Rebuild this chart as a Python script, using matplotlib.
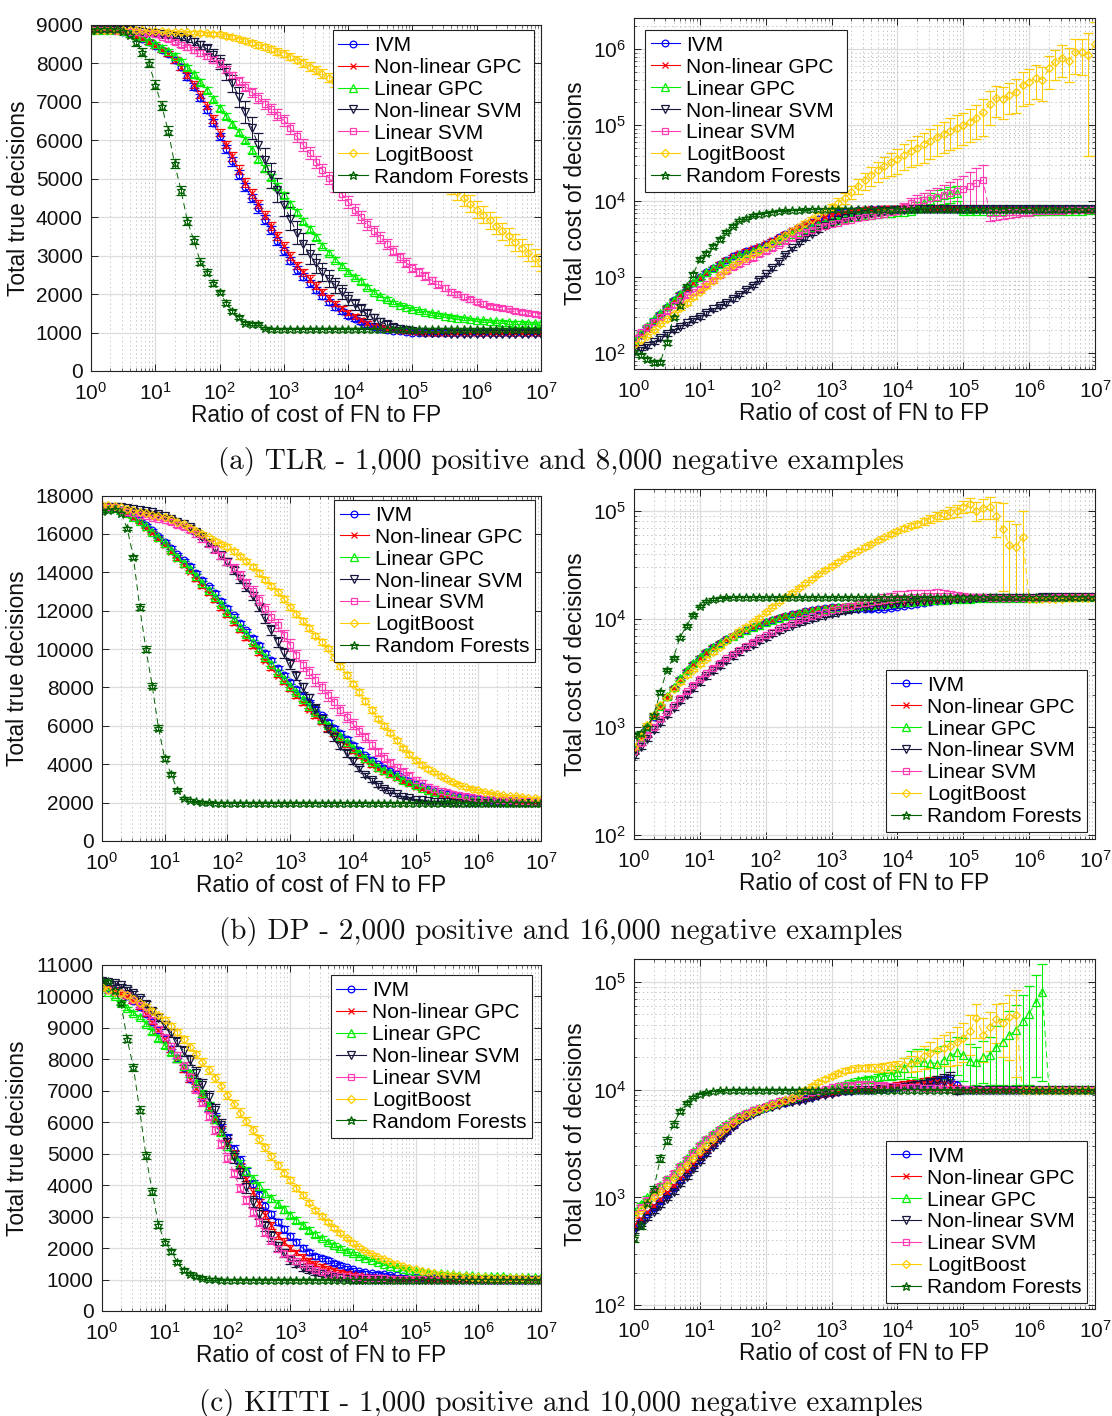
import numpy as np
import matplotlib
matplotlib.use("Agg")
import matplotlib.pyplot as plt
from matplotlib.lines import Line2D
from matplotlib.ticker import LogLocator, FixedLocator, NullFormatter

# ---------------------------------------------------------------------------
# Data: cost ratio FN/FP sampled on a log grid (exponents of ten, 0.1 steps)
# ---------------------------------------------------------------------------
RATIO_EXPONENTS = [
    0.0, 0.1, 0.2, 0.3, 0.4, 0.5, 0.6, 0.7, 0.8, 0.9,
    1.0, 1.1, 1.2, 1.3, 1.4, 1.5, 1.6, 1.7, 1.8, 1.9,
    2.0, 2.1, 2.2, 2.3, 2.4, 2.5, 2.6, 2.7, 2.8, 2.9,
    3.0, 3.1, 3.2, 3.3, 3.4, 3.5, 3.6, 3.7, 3.8, 3.9,
    4.0, 4.1, 4.2, 4.3, 4.4, 4.5, 4.6, 4.7, 4.8, 4.9,
    5.0, 5.1, 5.2, 5.3, 5.4, 5.5, 5.6, 5.7, 5.8, 5.9,
    6.0, 6.1, 6.2, 6.3, 6.4, 6.5, 6.6, 6.7, 6.8, 6.9,
    7.0]

METHODS = ["IVM", "Non-linear GPC", "Linear GPC", "Non-linear SVM",
           "Linear SVM", "LogitBoost", "Random Forests"]

# ---- (a) TLR: total true decisions ----
TLR_TRUE_IVM = [
    8880, 8880, 8880, 8875, 8870, 8830, 8780, 8710, 8640, 8550,
    8450, 8350, 8250, 8090, 7900, 7660, 7400, 7110, 6800, 6460,
    6100, 5780, 5450, 5110, 4780, 4500, 4230, 3940, 3660, 3390,
    3130, 2870, 2630, 2450, 2280, 2110, 1950, 1800, 1660, 1550,
    1440, 1350, 1270, 1200, 1140, 1100, 1070, 1050, 1030, 1015,
    1000, 995, 990, 988, 985, 982] + [980] * 15
TLR_TRUE_NLGPC = [
    8880, 8880, 8880, 8875, 8870, 8830, 8780, 8710, 8640, 8550,
    8450, 8350, 8250, 8090, 7900, 7690, 7450, 7190, 6900, 6560,
    6200, 5890, 5580, 5240, 4900, 4620, 4350, 4060, 3780, 3510,
    3250, 2990, 2750, 2570, 2400, 2220, 2050, 1890, 1750, 1630,
    1520, 1420, 1330, 1250, 1180, 1140, 1100, 1075, 1050, 1035,
    1020, 1010, 1000, 995, 990, 988] + [985] * 15
TLR_TRUE_LGPC = [
    8880, 8880, 8880, 8875, 8870, 8840, 8800, 8745, 8680, 8595,
    8500, 8410, 8320, 8200, 8060, 7900, 7720, 7520, 7300, 7070,
    6840, 6630, 6420, 6210, 6000, 5760, 5520, 5280, 5050, 4810,
    4570, 4350, 4130, 3910, 3700, 3480, 3260, 3080, 2900, 2740,
    2580, 2450, 2330, 2190, 2060, 1960, 1870, 1790, 1720, 1670,
    1620, 1575, 1530, 1500, 1470, 1440, 1410, 1390, 1370, 1350,
    1330, 1315, 1300, 1290, 1280, 1270, 1260, 1255, 1250, 1245,
    1240]
TLR_TRUE_NLSVM = [
    8880, 8880, 8880, 8880, 8880, 8870, 8860, 8840, 8820, 8800,
    8780, 8760, 8740, 8720, 8690, 8630, 8560, 8480, 8380, 8230,
    8030, 7780, 7480, 7130, 6740, 6320, 5890, 5480, 5090, 4710,
    4330, 3960, 3600, 3310, 3040, 2800, 2580, 2400, 2230, 2050,
    1880, 1730, 1600, 1480, 1370, 1280, 1210, 1150, 1100, 1060,
    1030, 1005, 990, 985, 980, 978] + [975] * 15
TLR_TRUE_LSVM = [
    8880, 8875, 8870, 8860, 8850, 8840, 8830, 8815, 8800, 8780,
    8760, 8700, 8630, 8560, 8490, 8420, 8350, 8280, 8200, 8100,
    8000, 7850, 7690, 7550, 7400, 7250, 7100, 6950, 6810, 6670,
    6520, 6310, 6100, 5880, 5660, 5440, 5230, 5020, 4820, 4610,
    4400, 4200, 4010, 3820, 3640, 3470, 3300, 3130, 2960, 2820,
    2680, 2570, 2470, 2360, 2260, 2160, 2060, 1990, 1930, 1860,
    1800, 1750, 1700, 1670, 1640, 1600, 1570, 1540, 1510, 1485,
    1460]
TLR_TRUE_LB = [
    8880, 8880, 8880, 8880, 8880, 8875, 8870, 8865, 8860, 8855,
    8850, 8840, 8830, 8820, 8810, 8805, 8800, 8790, 8780, 8770,
    8760, 8720, 8680, 8640, 8590, 8540, 8480, 8430, 8370, 8310,
    8250, 8180, 8100, 8010, 7920, 7830, 7730, 7630, 7530, 7420,
    7300, 7180, 7050, 6920, 6780, 6630, 6480, 6340, 6200, 6050,
    5900, 5700, 5500, 5320, 5150, 4990, 4830, 4660, 4500, 4350,
    4200, 4060, 3920, 3780, 3640, 3500, 3350, 3210, 3080, 2950,
    2820]
TLR_TRUE_RF = [
    8880, 8890, 8900, 8900, 8890, 8850, 8750, 8550, 8300, 8000,
    7450, 6900, 6250, 5400, 4700, 3900, 3400, 2840, 2570, 2290,
    2050, 1780, 1560, 1400, 1260, 1235, 1235, 1120, 1100, 1100] + [1100] * 41

TLR_TRUE_IVM_ERR = [
    20, 20, 20, 22, 25, 30, 35, 40, 45, 50,
    55, 60, 65, 70, 75, 80, 85, 90, 95, 98,
    100, 102, 105, 108, 110, 110, 110, 108, 105, 102,
    100, 98, 95, 92, 90, 85, 80, 75, 70, 65,
    60, 55, 50, 45, 40, 35, 30, 28, 25, 22] + [20] * 21
TLR_TRUE_NLGPC_ERR = [
    20, 20, 20, 22, 25, 30, 35, 40, 45, 50,
    55, 60, 65, 70, 75, 80, 85, 90, 95, 98,
    100, 102, 105, 108, 110, 110, 110, 108, 105, 102,
    100, 98, 95, 92, 90, 85, 80, 75, 70, 65,
    60, 55, 50, 45, 40, 35, 30, 28, 25, 22] + [20] * 21
TLR_TRUE_LGPC_ERR = [
    20, 20, 20, 22, 25, 30, 35, 40, 45, 50,
    55, 58, 60, 62, 65, 68, 70, 72, 75, 78,
    80, 80, 80, 80, 80, 80, 80, 80, 80, 80,
    80, 80, 80, 78, 75, 72, 70, 68, 65, 62,
    60, 58, 55, 52, 50, 48, 45, 42, 40, 40,
    40, 38] + [35] * 19
TLR_TRUE_NLSVM_ERR = [
    20, 20, 20, 20, 20, 22, 25, 30, 35, 40,
    45, 50, 55, 62, 70, 80, 90, 110, 130, 155,
    180, 205, 230, 255, 280, 295, 310, 315, 320, 315,
    310, 300, 290, 275, 260, 245, 230, 215, 200, 185,
    170, 155, 140, 125, 110, 95, 80, 68, 55, 45,
    35, 30, 25, 22] + [20] * 17
TLR_TRUE_LSVM_ERR = [
    20, 20, 20, 22, 25, 28, 30, 32, 35, 38,
    40, 45, 50, 55, 60, 65, 70, 75, 80, 85,
    90, 95, 100, 105, 110, 115, 120, 125, 130, 135,
    140, 145, 150, 152, 155, 158, 160, 160, 160, 158,
    155, 152, 150, 145, 140, 135, 130, 125, 120, 115,
    110, 105, 100, 95, 90, 85, 80, 75, 70, 65,
    60, 58, 55, 52, 50, 50, 50, 50, 50, 50,
    50]
TLR_TRUE_LB_ERR = [
    15, 15, 15, 15, 15, 15, 15, 15, 20, 22,
    25, 28, 30, 32, 35, 38, 40, 42, 45, 48,
    50, 52, 55, 58, 60, 65, 70, 75, 80, 85,
    90, 95, 100, 105, 110, 115, 120, 125, 130, 135,
    140, 145, 150, 155, 160, 165, 170, 175, 180, 185,
    190, 195, 200, 205, 210, 215, 220, 220, 220, 220] + [220] * 11
TLR_TRUE_RF_ERR = [
    20, 25, 30, 35, 40, 55, 70, 85, 100, 105,
    110, 115, 120, 115, 110, 105, 100, 90, 80, 70,
    60, 55, 50, 45, 40, 35, 30, 25, 20, 20] + [20] * 41

# ---- (a) TLR: total cost ----
TLR_COST_IVM = [
    140, 175, 220, 270, 330, 410, 500, 600, 720, 850,
    1000, 1160, 1330, 1510, 1700, 1880, 2050, 2200, 2350, 2540,
    2750, 3030, 3350, 3710, 4100, 4490, 4900, 5340, 5800, 6200,
    6600, 6920, 7200, 7420, 7600, 7740, 7850, 7910, 7950, 7980] + [8000] * 31
TLR_COST_NLGPC = [
    135, 170, 210, 260, 320, 400, 490, 590, 710, 840,
    990, 1150, 1320, 1510, 1700, 1890, 2080, 2240, 2400, 2590,
    2800, 3080, 3400, 3760, 4150, 4570, 5000, 5450, 5900, 6300,
    6700, 7020, 7300, 7520, 7700, 7840, 7950, 8030, 8100, 8150,
    8200, 8250, 8300, 8300, 8300, 8250, 8200, 8150, 8100, 8080,
    8050, 8020] + [8000] * 19
TLR_COST_LGPC = [
    150, 185, 230, 280, 340, 420, 510, 610, 730, 860,
    1000, 1160, 1320, 1480, 1650, 1800, 1950, 2100, 2250, 2420,
    2600, 2840, 3100, 3390, 3700, 4000, 4300, 4600, 4900, 5200,
    5500, 5750, 6000, 6200, 6400, 6550, 6700, 6850, 7000, 7100,
    7200, 7300, 7400, 8500, 9500, 10500, 11500, 12000, 12500, 13000,
    7400, 7400, 7400, 7400, 7400, 7420, 7450, 7450, 7450, 7470,
    7500, 7500, 7500, 7500, 7500, 7520, 7550, 7550, 7550, 7580,
    7600]
TLR_COST_NLSVM = [
    105, 115, 125, 140, 160, 180, 200, 225, 250, 275,
    300, 340, 380, 420, 460, 520, 590, 680, 780, 930,
    1100, 1330, 1600, 1980, 2400, 2850, 3300, 3750, 4200, 4700,
    5200, 5600, 6000, 6250, 6500, 6750, 7000, 7200, 7400, 7550,
    7700, 7800, 7900, 7950] + [8000] * 27
TLR_COST_LSVM = [
    160, 190, 220, 260, 300, 360, 430, 500, 580, 640,
    700, 810, 930, 1060, 1200, 1350, 1500, 1650, 1800, 2000,
    2200, 2440, 2700, 3000, 3300, 3620, 3950, 4250, 4550, 4780,
    5000, 5250, 5500, 5750, 6000, 6250, 6500, 6700, 6900, 7150,
    7400, 8500, 9500, 10000, 10500, 11000, 11500, 12200, 13000, 13700,
    14500, 16000, 17500, 19000, 7000, 7050, 7100, 7150, 7200, 7250,
    7300, 7350, 7400, 7450, 7500, 7550, 7600, 7650, 7700, 7750,
    7800]
TLR_COST_LB = [
    130, 150, 170, 200, 240, 280, 330, 390, 460, 550,
    650, 770, 900, 1060, 1250, 1450, 1650, 1820, 2000, 2230,
    2500, 2830, 3200, 3630, 4100, 4620, 5200, 5860, 6600, 7450,
    8400, 9600, 11000, 13300, 16000, 18800, 22000, 25500, 29000, 32500,
    36000, 41000, 46000, 51000, 56000, 63000, 70000, 77000, 85000, 93000,
    100000, 112000, 126000, 148000, 190000, 230000, 220000, 250000, 275000, 340000,
    370000, 420000, 400000, 560000, 690000, 780000, 700000, 930000, 910000, 850000,
    1170000]
TLR_COST_RF = [
    106, 95, 85, 76, 77, 140, 300, 430, 760, 1100,
    1750, 2100, 2600, 3200, 4000, 4800, 5700, 6100, 6600, 6900,
    7100, 7300, 7500, 7600, 7700, 7800, 7850, 7900, 7950, 7980] + [8000] * 41

TLR_COST_IVM_ERR = [
    6, 7, 9, 11, 13, 16, 20, 25, 30, 35,
    40, 47, 55, 62, 70, 78, 85, 92, 100, 105,
    110, 120, 130, 145, 160, 175, 190, 205, 220, 230,
    240, 245, 250, 250, 250, 235, 220, 200, 180, 165] + [150] * 31
TLR_COST_NLGPC_ERR = [
    6, 7, 9, 11, 13, 16, 20, 25, 30, 35,
    40, 47, 55, 62, 70, 78, 85, 92, 100, 105,
    110, 120, 130, 145, 160, 175, 190, 205, 220, 230,
    240, 245, 250, 275, 300, 350, 400, 450, 500, 550,
    600, 650, 700, 700, 700, 650, 600, 550, 500, 450,
    400, 300] + [150] * 19
TLR_COST_LGPC_ERR = [
    6, 7, 9, 11, 13, 16, 20, 25, 30, 35,
    40, 47, 55, 62, 70, 78, 85, 92, 100, 105,
    110, 120, 130, 145, 160, 175, 190, 205, 220, 230,
    240, 245, 250, 250, 250, 250, 250, 250, 250, 275,
    300, 350, 400, 1200, 2000, 2200, 2500, 2700, 3000, 3000,
    300, 280, 250, 220, 200] + [200] * 16
TLR_COST_NLSVM_ERR = [
    5, 5, 6, 7, 8, 9, 10, 11, 12, 13,
    15, 17, 20, 22, 25, 28, 30, 35, 40, 47,
    55, 67, 80, 100, 120, 145, 170, 195, 220, 240,
    260, 270, 280, 280, 280, 270, 260, 240, 220, 200,
    180, 165, 150] + [150] * 28
TLR_COST_LSVM_ERR = [
    8, 9, 10, 12, 14, 17, 20, 24, 28, 31,
    35, 40, 45, 52, 60, 67, 75, 82, 90, 100,
    110, 120, 130, 145, 160, 175, 190, 205, 220, 235,
    250, 265, 280, 290, 300, 310, 320, 330, 340, 450,
    600, 1000, 1500, 2000, 2500, 3000, 3500, 4200, 5000, 6000,
    7000, 8500, 10000, 11000, 1500, 1400, 1200, 1100, 1000, 900,
    800, 750, 700, 650, 600, 550, 500, 450, 400, 350,
    300]
TLR_COST_LB_ERR = [
    6, 7, 8, 10, 12, 14, 16, 20, 23, 28,
    33, 39, 45, 53, 60, 70, 80, 90, 100, 115,
    130, 145, 160, 180, 200, 250, 300, 400, 500, 700,
    900, 1300, 1800, 2500, 3500, 4500, 6000, 7500, 9000, 11000,
    13000, 15500, 18000, 21000, 24000, 27000, 30000, 34000, 38000, 42000,
    45000, 52000, 60000, 75000, 90000, 100000, 100000, 110000, 130000, 160000,
    180000, 200000, 190000, 260000, 300000, 350000, 330000, 450000, 450000, 810000,
    1130000]
TLR_COST_RF_ERR = [
    5, 5, 5, 5, 5, 10, 20, 35, 50, 75,
    100, 125, 150, 175, 200, 200, 200, 190, 180, 165,
    150, 135, 120, 110, 100, 90, 80, 70, 60, 55] + [50] * 41

# ---- (b) DP: total true decisions ----
DP_TRUE_IVM = [
    17400, 17380, 17350, 17240, 17100, 16910, 16700, 16460, 16200, 15910,
    15600, 15280, 14950, 14640, 14330, 13980, 13620, 13260, 12900, 12520,
    12130, 11750, 11360, 10970, 10570, 10190, 9800, 9410, 9010, 8650,
    8280, 7920, 7560, 7220, 6890, 6540, 6200, 5900, 5610, 5310,
    5010, 4740, 4470, 4230, 3990, 3820, 3650, 3470, 3300, 3140,
    2990, 2850, 2720, 2620, 2520, 2440, 2360, 2300, 2250, 2210,
    2170, 2140, 2120, 2100, 2080, 2070, 2060, 2055, 2050, 2045,
    2040]
DP_TRUE_NLGPC = [
    17400, 17380, 17350, 17220, 17060, 16840, 16600, 16330, 16050, 15730,
    15400, 15050, 14700, 14360, 14020, 13650, 13280, 12910, 12540, 12150,
    11760, 11360, 10970, 10570, 10180, 9790, 9400, 9010, 8620, 8260,
    7900, 7540, 7180, 6850, 6530, 6190, 5850, 5560, 5280, 4990,
    4700, 4440, 4190, 3960, 3730, 3570, 3420, 3260, 3100, 2950,
    2810, 2690, 2570, 2480, 2390, 2320, 2250, 2200, 2160, 2130,
    2100, 2085, 2070, 2060, 2050, 2040, 2030, 2025, 2020, 2015,
    2010]
DP_TRUE_LGPC = [
    17400, 17380, 17350, 17230, 17080, 16880, 16650, 16390, 16120, 15820,
    15500, 15160, 14820, 14500, 14170, 13810, 13450, 13090, 12720, 12340,
    11950, 11560, 11170, 10780, 10380, 10000, 9610, 9210, 8820, 8460,
    8100, 7740, 7380, 7050, 6720, 6370, 6030, 5740, 5450, 5150,
    4860, 4590, 4330, 4090, 3860, 3700, 3540, 3370, 3200, 3050,
    2900, 2770, 2640, 2540, 2450, 2370, 2300, 2250, 2200, 2160,
    2130, 2110, 2090, 2075, 2060, 2050, 2040, 2035, 2030, 2025,
    2020]
DP_TRUE_NLSVM = [
    17420, 17410, 17400, 17380, 17350, 17300, 17250, 17200, 17150, 17060,
    16950, 16800, 16640, 16500, 16350, 16100, 15840, 15530, 15200, 14880,
    14560, 14110, 13650, 13210, 12770, 12190, 11600, 10990, 10380, 9800,
    9220, 8610, 8000, 7450, 6900, 6380, 5860, 5410, 4970, 4560,
    4150, 3790, 3440, 3170, 2900, 2730, 2560, 2430, 2300, 2230,
    2160, 2110, 2070, 2050, 2030, 2015] + [2000] * 15
DP_TRUE_LSVM = [
    17420, 17400, 17380, 17270, 17160, 17080, 17000, 16920, 16850, 16790,
    16730, 16600, 16470, 16340, 16200, 15980, 15750, 15480, 15200, 14880,
    14560, 14210, 13860, 13440, 13020, 12560, 12100, 11680, 11250, 10720,
    10200, 9670, 9150, 8780, 8400, 8000, 7600, 7220, 6830, 6460,
    6090, 5740, 5400, 5020, 4640, 4350, 4060, 3830, 3600, 3400,
    3200, 3010, 2820, 2720, 2620, 2530, 2450, 2390, 2340, 2290,
    2240, 2210, 2190, 2160, 2140, 2120, 2100, 2080, 2060, 2045,
    2030]
DP_TRUE_LB = [
    17500, 17480, 17450, 17380, 17300, 17230, 17150, 17080, 17000, 16950,
    16900, 16770, 16640, 16490, 16330, 16170, 16000, 15820, 15640, 15490,
    15340, 15090, 14830, 14570, 14300, 13960, 13620, 13300, 12990, 12600,
    12200, 11840, 11480, 11090, 10700, 10370, 10030, 9580, 9130, 8660,
    8200, 7750, 7300, 6840, 6380, 6010, 5640, 5240, 4850, 4520,
    4200, 3980, 3770, 3570, 3370, 3210, 3050, 2920, 2800, 2720,
    2640, 2570, 2500, 2450, 2400, 2360, 2330, 2290, 2260, 2230,
    2210]
DP_TRUE_RF = [
    17200, 17250, 17300, 17100, 16300, 14800, 12200, 10000, 8100, 5900,
    4300, 3500, 2680, 2250, 2130, 2060, 2030, 2010, 2000, 2000] + [2000] * 51

DP_TRUE_IVM_ERR = [
    30, 30, 30, 30, 30, 35, 40, 45, 50, 55,
    60, 65, 70, 75, 80, 85, 90, 95, 100, 100] + [100] * 20 + [
    95, 90, 85, 80, 75, 70, 65, 60, 55, 50,
    45, 40, 40, 35, 35, 30, 30, 30, 30, 30] + [30] * 11
DP_TRUE_NLGPC_ERR = list(DP_TRUE_IVM_ERR)
DP_TRUE_LGPC_ERR = list(DP_TRUE_IVM_ERR)
DP_TRUE_NLSVM_ERR = [
    30, 30, 30, 30, 30, 35, 40, 45, 50, 55,
    60, 70, 80, 90, 100, 110, 120, 135, 150, 165,
    180, 190, 200, 210, 220, 230, 240, 245, 250, 250,
    250, 245, 240, 230, 220, 210, 200, 190, 180, 165,
    150, 135, 120, 110, 100, 90, 80, 70, 60, 50,
    40, 35, 30, 30, 30] + [30] * 16
DP_TRUE_LSVM_ERR = [
    30, 30, 30, 35, 40, 45, 50, 55, 60, 70,
    80, 90, 100, 110, 120, 135, 150, 165, 180, 190,
    200, 210, 220, 235, 250, 260, 270, 280, 290, 295,
    300, 300, 300, 300, 300, 295, 290, 285, 280, 270,
    260, 250, 240, 230, 220, 210, 200, 190, 180, 170,
    160, 150, 140, 130, 120, 110, 100, 95, 90, 85,
    80, 75, 70, 65, 60, 55, 50, 50, 50, 50,
    50]
DP_TRUE_LB_ERR = [
    30, 30, 30, 30, 30, 35, 40, 45, 50, 55,
    60, 65, 70, 75, 80, 85, 90, 95, 100, 105,
    110, 115, 120, 125, 130, 135, 140, 145, 150, 150] + [150] * 14 + [
    145, 140, 135, 130, 125, 120, 115, 110, 105, 100,
    95, 90, 85, 80, 75, 70, 65, 60, 55, 50] + [50] * 7
DP_TRUE_RF_ERR = [
    40, 40, 40, 60, 80, 120, 150, 150, 150, 140,
    120, 90, 60, 50, 40, 35, 30, 30, 30, 30] + [30] * 51

# ---- (b) DP: total cost ----
DP_COST_IVM = [
    600, 790, 1000, 1250, 1550, 1900, 2300, 2770, 3300, 3840,
    4400, 4950, 5500, 6000, 6500, 7000, 7500, 7950, 8400, 8850,
    9300, 9800, 10300, 10700, 11100, 11450, 11800, 12050, 12300, 12550,
    12800, 12800, 12800, 12650, 12500, 12400, 12300, 12400, 12500, 12750,
    13000, 13300, 13600, 13900, 14200, 14450, 14700, 14900, 15100, 15250,
    15400, 15450, 15500, 15550, 15600, 15650, 15700, 15720, 15750, 15780,
    15800, 15820, 15850, 15880, 15900, 15920, 15950, 15980, 16000, 16000,
    16000]
DP_COST_NLGPC = [
    590, 780, 980, 1230, 1530, 1880, 2280, 2750, 3280, 3820,
    4380, 4930, 5480, 5990, 6500, 7000, 7500, 7950, 8400, 8850,
    9300, 9800, 10300, 10700, 11100, 11450, 11800, 12050, 12300, 12550,
    12800, 12950, 13100, 13250, 13400, 13550, 13700, 13850, 14000, 14150,
    14300, 14450, 14600, 14750, 14900, 15000, 15100, 15200, 15300, 15350,
    15400, 15450, 15500, 15550, 15600, 15650, 15700, 15720, 15750, 15780,
    15800, 15820, 15850, 15880, 15900, 15920, 15950, 15980, 16000, 16000,
    16000]
DP_COST_LGPC = [
    620, 810, 1020, 1280, 1580, 1940, 2350, 2820, 3350, 3900,
    4450, 5000, 5550, 6050, 6550, 7030, 7500, 7950, 8400, 8850,
    9300, 9750, 10200, 10600, 11000, 11350, 11700, 11950, 12200, 12450,
    12700, 12850, 13000, 13150, 13300, 13400, 13500, 13650, 13800, 13950,
    14100, 14250, 14400, 14550, 14700, 14850, 15000, 15100, 15200, 15300,
    15400, 15450, 15500, 15550, 15600, 15650, 15700, 15720, 15750, 15780,
    15800, 15820, 15850, 15880, 15900, 15920, 15950, 15980, 16000, 16000,
    16000]
DP_COST_NLSVM = [
    540, 650, 780, 930, 1100, 1290, 1500, 1740, 2000, 2290,
    2600, 2940, 3300, 3700, 4100, 4500, 4900, 5350, 5800, 6250,
    6700, 7200, 7700, 8200, 8700, 9150, 9600, 10000, 10400, 10750,
    11100, 11450, 11800, 12100, 12400, 12700, 13000, 13250, 13500, 13700,
    13900, 14100, 14300, 14450, 14600, 14750, 14900, 15000, 15100, 15200,
    15300, 15400, 15500, 15550, 15600, 15650, 15700, 15720, 15750, 15780,
    15800, 15820, 15850, 15880, 15900, 15920, 15950, 15980, 16000, 16000,
    16000]
DP_COST_LSVM = [
    600, 710, 850, 1000, 1180, 1380, 1600, 1860, 2150, 2460,
    2800, 3160, 3550, 3940, 4350, 4770, 5200, 5670, 6150, 6620,
    7100, 7650, 8200, 8700, 9200, 9700, 10200, 10650, 11100, 11550,
    12000, 12450, 12900, 13300, 13700, 14050, 14400, 14700, 15000, 15250,
    15500, 15700, 15900, 16050, 16200, 16250, 16300, 16250, 16200, 16100,
    16000, 15950, 15900, 15850, 15800, 15800, 15800, 15800, 15800, 15800,
    15800, 15800, 15800, 15820, 15850, 15880, 15900, 15920, 15950, 15980,
    16000]
DP_COST_LB = [
    650, 830, 1050, 1300, 1600, 1900, 2250, 2600, 3000, 3380,
    3800, 4300, 4900, 5550, 6300, 7000, 7800, 8500, 9300, 10300,
    11500, 13000, 14500, 16000, 17500, 19400, 21500, 23700, 26000, 28500,
    31000, 34000, 37000, 40000, 43000, 46500, 50000, 53500, 57000, 61000,
    65000, 69000, 73000, 76500, 80000, 84500, 89000, 93000, 97000, 101000,
    110000, 115000, 100000, 107000, 110000, 90000, 68000, 48000, 46000, 58000,
    15200, 15250, 15300, 15350, 15400, 15450, 15500, 15550, 15600, 15600,
    15600]
DP_COST_RF = [
    850, 880, 1000, 1300, 2100, 3400, 4400, 6800, 8700, 11000,
    13300, 14600, 15300, 15700, 15900] + [16000] * 56

DP_COST_IVM_ERR = [
    20, 25, 30, 38, 45, 57, 70, 85, 100, 115,
    130, 145, 160, 175, 190, 205, 220, 235, 250, 265,
    280, 290, 300, 315, 330, 340, 350, 360, 370, 375,
    380, 390] + [400] * 39
DP_COST_NLGPC_ERR = list(DP_COST_IVM_ERR)
DP_COST_LGPC_ERR = list(DP_COST_IVM_ERR)
DP_COST_NLSVM_ERR = list(DP_COST_IVM_ERR)
DP_COST_LSVM_ERR = [
    20, 25, 30, 35, 40, 45, 50, 60, 70, 80,
    90, 100, 110, 120, 130, 145, 160, 175, 190, 205,
    220, 235, 250, 265, 280, 295, 310, 325, 340, 370,
    400, 500, 600, 800, 1000, 1250, 1500, 1750, 2000, 2250,
    2500, 2500, 2500, 2500, 2500, 2500, 2500, 2250, 2000, 1750,
    1500, 1250, 1000, 900, 800, 700, 600, 550, 500, 450] + [400] * 11
DP_COST_LB_ERR = [
    20, 25, 30, 40, 50, 60, 70, 80, 90, 100,
    110, 130, 150, 170, 190, 210, 230, 250, 280, 310,
    350, 400, 450, 500, 550, 620, 700, 780, 850, 920,
    1000, 1100, 1200, 1350, 1500, 1650, 1800, 2000, 2200, 2600,
    3000, 3500, 4000, 5000, 6000, 7000, 8000, 9500, 11000, 12500,
    14000, 17000, 20000, 22000, 25000, 32000, 50000, 32000, 30000, 42000] + [500] * 11
DP_COST_RF_ERR = [
    30, 30, 40, 50, 80, 120, 160, 220, 280, 300,
    300, 250, 200, 150, 100] + [80] * 56

# ---- (c) KITTI: total true decisions ----
KITTI_TRUE_IVM = [
    10350, 10280, 10200, 10100, 10000, 9850, 9680, 9450, 9200, 8930,
    8640, 8340, 8030, 7710, 7390, 7100, 6810, 6480, 6150, 5830,
    5500, 5150, 4800, 4420, 4050, 3690, 3330, 3080, 2830, 2600,
    2370, 2180, 2000, 1870, 1740, 1670, 1610, 1540, 1470, 1390,
    1320, 1270, 1230, 1210, 1190, 1170, 1150, 1130, 1110, 1095,
    1080, 1065, 1050, 1040, 1030, 1025, 1020, 1015, 1010, 1005] + [1000] * 11
KITTI_TRUE_NLGPC = [
    10350, 10280, 10200, 10100, 10000, 9850, 9680, 9450, 9200, 8930,
    8640, 8340, 8030, 7710, 7390, 7100, 6810, 6460, 6100, 5740,
    5380, 4990, 4590, 4190, 3790, 3420, 3050, 2730, 2410, 2200,
    2000, 1860, 1720, 1610, 1500, 1420, 1350, 1300, 1250, 1210,
    1170, 1140, 1110, 1090, 1070, 1060, 1050, 1040, 1030, 1020,
    1010, 1005] + [1000] * 19
KITTI_TRUE_LGPC = [
    10300, 10150, 10000, 9800, 9620, 9480, 9350, 9130, 8900, 8680,
    8450, 8240, 8030, 7800, 7560, 7240, 6920, 6520, 6100, 5680,
    5250, 4960, 4680, 4440, 4200, 3970, 3750, 3580, 3410, 3230,
    3060, 2890, 2730, 2580, 2440, 2320, 2200, 2100, 2000, 1910,
    1830, 1750, 1680, 1620, 1560, 1500, 1440, 1390, 1340, 1310,
    1280, 1260, 1240, 1220, 1200, 1185, 1170, 1155, 1140, 1130,
    1120, 1115, 1110, 1105, 1100, 1095, 1090, 1088, 1085, 1082,
    1080]
KITTI_TRUE_NLSVM = [
    10500, 10470, 10430, 10350, 10250, 10100, 9940, 9750, 9540, 9330,
    9100, 8840, 8560, 8270, 7970, 7580, 7180, 6800, 6400, 5900,
    5380, 4900, 4420, 3950, 3480, 3090, 2700, 2380, 2060, 1840,
    1620, 1490, 1360, 1290, 1220, 1170, 1130, 1090, 1050, 1025,
    1000, 990] + [980] * 29
KITTI_TRUE_LSVM = [
    10300, 10220, 10150, 10100, 10040, 9900, 9730, 9500, 9250, 8980,
    8700, 8420, 8130, 7800, 7450, 7050, 6630, 6200, 5760, 5320,
    4880, 4400, 3920, 3540, 3160, 2840, 2520, 2250, 1980, 1830,
    1690, 1590, 1500, 1400, 1310, 1250, 1190, 1150, 1120, 1100,
    1090, 1075, 1060, 1050, 1040, 1035, 1030, 1025, 1020, 1015,
    1010, 1005] + [1000] * 19
KITTI_TRUE_LB = [
    10300, 10220, 10150, 10100, 10040, 9920, 9800, 9670, 9540, 9400,
    9250, 9070, 8880, 8640, 8400, 8160, 7920, 7670, 7420, 7140,
    6860, 6590, 6310, 6030, 5750, 5480, 5200, 4920, 4630, 4400,
    4160, 3920, 3680, 3440, 3200, 3010, 2830, 2650, 2470, 2310,
    2160, 2030, 1910, 1810, 1720, 1640, 1560, 1490, 1420, 1370,
    1320, 1280, 1240, 1210, 1180, 1160, 1140, 1120, 1100, 1090,
    1080, 1070, 1060, 1055, 1050, 1045, 1040, 1035, 1030, 1030,
    1030]
KITTI_TRUE_RF = [
    10520, 10480, 10200, 9800, 8660, 7750, 6400, 4950, 3800, 2750,
    2200, 1900, 1560, 1300, 1180, 1100, 1060, 1030, 1010, 1000] + [1000] * 51

KITTI_TRUE_IVM_ERR = [
    40, 45, 50, 55, 60, 65, 70, 75, 80, 85,
    90, 95, 100, 105, 110, 115, 120, 125, 130, 130,
    130, 130, 130, 130, 130, 125, 120, 115, 110, 105,
    100, 95, 90, 85, 80, 75, 70, 65, 60, 55,
    50, 45, 40, 40, 40, 35] + [30] * 25
KITTI_TRUE_NLGPC_ERR = list(KITTI_TRUE_IVM_ERR)
KITTI_TRUE_LGPC_ERR = list(KITTI_TRUE_IVM_ERR)
KITTI_TRUE_NLSVM_ERR = [
    40, 45, 50, 55, 60, 70, 80, 90, 100, 110,
    120, 130, 140, 150, 160, 170, 180, 185, 190, 195,
    200, 195, 190, 185, 180, 170, 160, 150, 140, 125,
    110, 95, 80, 70, 60, 55, 50, 45, 40, 35] + [30] * 31
KITTI_TRUE_LSVM_ERR = list(KITTI_TRUE_IVM_ERR)
KITTI_TRUE_LB_ERR = list(KITTI_TRUE_IVM_ERR)
KITTI_TRUE_RF_ERR = [
    40, 50, 60, 80, 100, 110, 120, 120, 120, 110,
    100, 85, 70, 60, 50, 45, 40, 35, 30, 25] + [20] * 51

# ---- (c) KITTI: total cost ----
KITTI_COST_IVM = [
    520, 600, 700, 800, 920, 1060, 1230, 1440, 1680, 1960,
    2280, 2660, 3080, 3550, 4050, 4600, 5200, 5630, 6050, 6430,
    6800, 7080, 7350, 7580, 7800, 8050, 8300, 8580, 8850, 9080,
    9300, 9480, 9650, 9750, 9850, 9900, 9950, 10080, 10200, 10400,
    10600, 10800, 11000, 11200, 11400, 11600, 11800, 12000, 12200, 11000] + [10000] * 21
KITTI_COST_NLGPC = [
    550, 630, 730, 840, 960, 1110, 1280, 1500, 1740, 2030,
    2350, 2730, 3150, 3630, 4150, 4720, 5300, 5720, 6150, 6520,
    6900, 7170, 7450, 7670, 7900, 8150, 8400, 8670, 8950, 9180,
    9400, 9550, 9700, 9800, 9900, 10050, 10200, 10400, 10600, 10800,
    11000, 11250, 11500, 11650, 11800, 11900, 12000, 11500, 11000, 10500] + [10000] * 21
KITTI_COST_LGPC = [
    750, 870, 1000, 1140, 1300, 1490, 1700, 1980, 2300, 2690,
    3100, 3520, 3950, 4400, 4850, 5300, 5750, 6130, 6500, 6800,
    7100, 7450, 7800, 8100, 8400, 8750, 9100, 9400, 9700, 10000,
    10300, 10800, 11300, 11700, 12300, 12500, 12700, 13000, 13300, 13700,
    14500, 16000, 18000, 18200, 18100, 17800, 17500, 19000, 20500, 22200,
    21000, 18500, 18000, 20000, 21000, 25000, 28000, 32000, 36000, 43000,
    51000, 65000, 80000, 10200, 10150, 10100, 10100, 10100, 10100, 10100,
    10100]
KITTI_COST_NLSVM = [
    480, 555, 640, 735, 840, 970, 1120, 1320, 1550, 1830,
    2150, 2520, 2950, 3430, 3950, 4500, 5100, 5520, 5950, 6320,
    6700, 6970, 7250, 7450, 7650, 7870, 8100, 8400, 8700, 8950,
    9200, 9420, 9650, 9750, 9850, 9920, 10000, 10100, 10200, 10350,
    10500, 10650, 10800, 11000, 11200, 11450, 11700, 12100, 12500, 9700] + [9900] * 21
KITTI_COST_LSVM = [
    700, 820, 950, 1110, 1280, 1480, 1700, 1960, 2250, 2630,
    3050, 3470, 3900, 4320, 4750, 5200, 5650, 6050, 6450, 6780,
    7100, 7450, 7800, 8100, 8400, 8750, 9100, 9450, 9800, 10150,
    10500, 10750, 11000, 11150, 11300, 11250, 11200, 11100, 11000, 10900,
    10800, 10700, 10600, 10500, 10400, 10350, 10300, 10250, 10200, 10150,
    10100, 10050] + [10000] * 19
KITTI_COST_LB = [
    680, 770, 880, 1010, 1150, 1310, 1500, 1740, 2000, 2330,
    2700, 3090, 3500, 3950, 4400, 4900, 5400, 5800, 6200, 6550,
    6900, 7250, 7600, 7950, 8300, 9100, 10000, 10900, 11800, 12600,
    13500, 14200, 15000, 15500, 15900, 16000, 16000, 16000, 16200, 16300,
    16500, 17000, 17500, 19000, 20500, 22000, 23500, 24500, 25500, 27500,
    30000, 35000, 46000, 32000, 38000, 45000, 42000, 47000, 49000, 10000] + [10000] * 11
KITTI_COST_RF = [
    415, 550, 880, 1200, 2300, 3400, 4800, 6300, 7600, 8600,
    9200, 9450, 9700, 9850, 9950] + [10000] * 56

KITTI_COST_IVM_ERR = [
    15, 17, 20, 25, 30, 35, 40, 47, 55, 62,
    70, 80, 90, 100, 110, 120, 130, 140, 150, 160,
    170, 175, 180, 185, 190, 195, 200, 200, 200, 200,
    200, 200, 200, 200, 200, 200, 200, 250, 300, 400,
    500, 600, 700, 800, 900, 1000, 1200, 1350, 1500, 1000] + [200] * 21
KITTI_COST_NLGPC_ERR = [
    15, 17, 20, 25, 30, 35, 40, 47, 55, 62,
    70, 80, 90, 100, 110, 120, 130, 140, 150, 160,
    170, 175, 180, 185, 190, 195, 200, 200, 200, 200,
    200, 200, 200, 200, 200, 250, 300, 400, 500, 600,
    700, 800, 900, 1000, 1100, 1200, 1300, 1200, 1000, 600] + [200] * 21
KITTI_COST_LGPC_ERR = [
    20, 25, 30, 35, 40, 45, 50, 55, 60, 70,
    80, 90, 100, 110, 120, 130, 140, 150, 160, 170,
    180, 190, 200, 210, 220, 230, 240, 250, 260, 280,
    300, 350, 400, 500, 600, 700, 800, 900, 1000, 1500,
    2000, 3500, 5000, 5500, 6000, 5800, 5500, 6500, 8000, 8500,
    9000, 8000, 7000, 8500, 10000, 14000, 17000, 22000, 25000, 32000,
    40000, 52000, 68000, 300, 200, 200, 200, 200, 200, 200,
    200]
KITTI_COST_NLSVM_ERR = [
    15, 17, 20, 25, 30, 35, 40, 47, 55, 62,
    70, 80, 90, 100, 110, 120, 130, 140, 150, 160,
    170, 175, 180, 185, 190, 195, 200, 200, 200, 200,
    200, 200, 200, 200, 200, 200, 200, 250, 300, 400,
    600, 750, 900, 1050, 1200, 1400, 1600, 1900, 2200, 500] + [200] * 21
KITTI_COST_LSVM_ERR = [
    20, 25, 30, 35, 40, 45, 50, 55, 60, 70,
    80, 90, 100, 110, 120, 130, 140, 150, 160, 170,
    180, 190, 200, 210, 220, 230, 240, 250, 260, 280,
    300, 350, 400, 450, 500, 500, 500, 500, 500, 450,
    400, 350, 300, 300, 300, 250] + [200] * 25
KITTI_COST_LB_ERR = [
    20, 25, 30, 35, 40, 45, 50, 55, 60, 70,
    80, 90, 100, 110, 120, 130, 140, 150, 160, 170,
    180, 190, 200, 225, 250, 275, 300, 350, 400, 500,
    600, 700, 800, 900, 1000, 1100, 1200, 1350, 1500, 1750,
    2000, 2500, 3000, 4000, 5000, 6000, 7000, 8000, 9000, 10500,
    12000, 14000, 16000, 14000, 15000, 18000, 22000, 28000, 36000, 200] + [200] * 11
KITTI_COST_RF_ERR = [30, 40, 50, 80, 150, 250, 300, 250, 200, 150, 100, 80, 60] + [50] * 58

CAPTIONS = ["(a) TLR - 1,000 positive and 8,000 negative examples",
            "(b) DP - 2,000 positive and 16,000 negative examples",
            "(c) KITTI - 1,000 positive and 10,000 negative examples"]

# ---------------------------------------------------------------------------
# Styling
# ---------------------------------------------------------------------------
plt.rcParams["font.family"] = ["Liberation Sans", "DejaVu Sans"]
plt.rcParams["mathtext.fontset"] = "custom"
plt.rcParams["mathtext.rm"] = "Liberation Sans"
plt.rcParams["mathtext.it"] = "Liberation Sans:italic"
plt.rcParams["mathtext.bf"] = "Liberation Sans:bold"
plt.rcParams["lines.scale_dashes"] = False

COLORS = ["#0000ff", "#ff0000", "#00ee00", "#16163c", "#ff3cb4", "#ffcc00", "#006000"]
MARKERS = ["o", "x", "^", "v", "s", "D", "*"]
MSIZES = [4.8, 4.8, 5.2, 5.2, 4.8, 4.4, 6.4]
DASH = (0, (4.5, 3.0))
INK = "#222222"
TICK_FS = 15
LABEL_FS = 16.4

ratios = [10.0 ** e for e in RATIO_EXPONENTS]

W, H = 1112, 1416
fig = plt.figure(figsize=(W / 100, H / 100), dpi=100)


def rect(left, top, right, bottom):
    return [left / W, 1 - bottom / H, (right - left) / W, (bottom - top) / H]


def draw_panel(box, series, errors, log_y, ylim, yticks, ylabel, legend_loc, legend_anchor):
    ax = fig.add_axes(rect(*box))
    for vals, err, col, mk, ms in zip(series, errors, COLORS, MARKERS, MSIZES):
        assert len(vals) == len(ratios), len(vals)
        assert len(err) == len(ratios), len(err)
        ax.errorbar(ratios, vals, yerr=err, color=col, ecolor=col, ls=DASH, lw=0.7,
                    marker=mk, ms=ms, mfc="none", mec=col, mew=0.9,
                    elinewidth=0.7, capsize=3.4, capthick=0.7)
    ax.set_xscale("log")
    ax.set_xlim(1, 1e7)
    ax.xaxis.set_major_locator(FixedLocator([10.0 ** k for k in range(8)]))
    ax.xaxis.set_minor_locator(LogLocator(base=10, subs=np.arange(2, 10), numticks=20))
    ax.xaxis.set_minor_formatter(NullFormatter())
    if log_y:
        ax.set_yscale("log")
        ax.set_ylim(*ylim)
        ax.yaxis.set_major_locator(FixedLocator(yticks))
        ax.yaxis.set_minor_locator(LogLocator(base=10, subs=np.arange(2, 10), numticks=20))
        ax.yaxis.set_minor_formatter(NullFormatter())
        ax.grid(True, which="minor", axis="both", color="#c4c4c4", lw=0.7, ls=(0, (1, 2)))
    else:
        ax.set_ylim(*ylim)
        ax.set_yticks(yticks)
        ax.grid(True, which="minor", axis="x", color="#c4c4c4", lw=0.7, ls=(0, (1, 2)))
    ax.grid(True, which="major", color="#dcdcdc", lw=0.9, ls="-")
    ax.set_axisbelow(True)
    ax.tick_params(which="both", direction="in", top=True, right=True,
                   colors=INK, labelcolor="#111111", labelsize=TICK_FS)
    ax.tick_params(which="major", length=5, width=0.7, pad=6)
    ax.tick_params(axis="x", which="major", pad=8)
    ax.tick_params(which="minor", length=2.5, width=0.5)
    for sp in ax.spines.values():
        sp.set_color(INK)
        sp.set_linewidth(0.8)
    ax.set_xlabel("Ratio of cost of FN to FP", fontsize=LABEL_FS, color="#111111", labelpad=0)
    ax.set_ylabel(ylabel, fontsize=LABEL_FS, color="#111111", labelpad=4)

    handles = [Line2D([], [], color=c, ls="-", lw=0.8, marker=m, ms=s, mfc="none", mec=c, mew=0.9)
               for c, m, s in zip(COLORS, MARKERS, MSIZES)]
    leg = ax.legend(handles, METHODS, loc=legend_loc, bbox_to_anchor=legend_anchor,
                    fontsize=TICK_FS, frameon=True, fancybox=False, framealpha=1,
                    edgecolor=INK, borderpad=0.28, labelspacing=0.14, handlelength=1.4,
                    handletextpad=0.3, borderaxespad=0.0, numpoints=1)
    leg.get_frame().set_linewidth(0.8)
    return ax


# (a) TLR
draw_panel((91, 25, 541, 371),
           [TLR_TRUE_IVM, TLR_TRUE_NLGPC, TLR_TRUE_LGPC, TLR_TRUE_NLSVM, TLR_TRUE_LSVM, TLR_TRUE_LB, TLR_TRUE_RF],
           [TLR_TRUE_IVM_ERR, TLR_TRUE_NLGPC_ERR, TLR_TRUE_LGPC_ERR, TLR_TRUE_NLSVM_ERR, TLR_TRUE_LSVM_ERR, TLR_TRUE_LB_ERR, TLR_TRUE_RF_ERR],
           False, (0, 9000), list(range(0, 9001, 1000)), "Total true decisions",
           "upper right", (0.985, 0.985))
draw_panel((634, 18, 1095, 369),
           [TLR_COST_IVM, TLR_COST_NLGPC, TLR_COST_LGPC, TLR_COST_NLSVM, TLR_COST_LSVM, TLR_COST_LB, TLR_COST_RF],
           [TLR_COST_IVM_ERR, TLR_COST_NLGPC_ERR, TLR_COST_LGPC_ERR, TLR_COST_NLSVM_ERR, TLR_COST_LSVM_ERR, TLR_COST_LB_ERR, TLR_COST_RF_ERR],
           True, (10 ** 1.794, 10 ** 6.412), [1e2, 1e3, 1e4, 1e5, 1e6], "Total cost of decisions",
           "upper left", (0.024, 0.966))

# (b) DP
draw_panel((102, 495.5, 541, 841),
           [DP_TRUE_IVM, DP_TRUE_NLGPC, DP_TRUE_LGPC, DP_TRUE_NLSVM, DP_TRUE_LSVM, DP_TRUE_LB, DP_TRUE_RF],
           [DP_TRUE_IVM_ERR, DP_TRUE_NLGPC_ERR, DP_TRUE_LGPC_ERR, DP_TRUE_NLSVM_ERR, DP_TRUE_LSVM_ERR, DP_TRUE_LB_ERR, DP_TRUE_RF_ERR],
           False, (0, 18000), list(range(0, 18001, 2000)), "Total true decisions",
           "upper right", (0.987, 0.987))
draw_panel((634, 489, 1095, 839),
           [DP_COST_IVM, DP_COST_NLGPC, DP_COST_LGPC, DP_COST_NLSVM, DP_COST_LSVM, DP_COST_LB, DP_COST_RF],
           [DP_COST_IVM_ERR, DP_COST_NLGPC_ERR, DP_COST_LGPC_ERR, DP_COST_NLSVM_ERR, DP_COST_LSVM_ERR, DP_COST_LB_ERR, DP_COST_RF_ERR],
           True, (10 ** 1.963, 10 ** 5.204), [1e2, 1e3, 1e4, 1e5], "Total cost of decisions",
           "lower right", (0.983, 0.02))

# (c) KITTI
draw_panel((102, 965, 541, 1311),
           [KITTI_TRUE_IVM, KITTI_TRUE_NLGPC, KITTI_TRUE_LGPC, KITTI_TRUE_NLSVM, KITTI_TRUE_LSVM, KITTI_TRUE_LB, KITTI_TRUE_RF],
           [KITTI_TRUE_IVM_ERR, KITTI_TRUE_NLGPC_ERR, KITTI_TRUE_LGPC_ERR, KITTI_TRUE_NLSVM_ERR, KITTI_TRUE_LSVM_ERR, KITTI_TRUE_LB_ERR, KITTI_TRUE_RF_ERR],
           False, (0, 11000), list(range(0, 11001, 1000)), "Total true decisions",
           "upper right", (0.98, 0.97))
draw_panel((634, 959, 1095, 1309),
           [KITTI_COST_IVM, KITTI_COST_NLGPC, KITTI_COST_LGPC, KITTI_COST_NLSVM, KITTI_COST_LSVM, KITTI_COST_LB, KITTI_COST_RF],
           [KITTI_COST_IVM_ERR, KITTI_COST_NLGPC_ERR, KITTI_COST_LGPC_ERR, KITTI_COST_NLSVM_ERR, KITTI_COST_LSVM_ERR, KITTI_COST_LB_ERR, KITTI_COST_RF_ERR],
           True, (10 ** 1.963, 10 ** 5.214), [1e2, 1e3, 1e4, 1e5], "Total cost of decisions",
           "lower right", (0.983, 0.017))

# Sub-figure captions in a Computer Modern face
for cap, yc in zip(CAPTIONS, [462, 932, 1403]):
    fig.text(561 / W, 1 - yc / H, cap, ha="center", va="center",
             fontsize=21, family=["cmr10", "DejaVu Serif"], color="#111111")

fig.savefig("out.png", dpi=100)
